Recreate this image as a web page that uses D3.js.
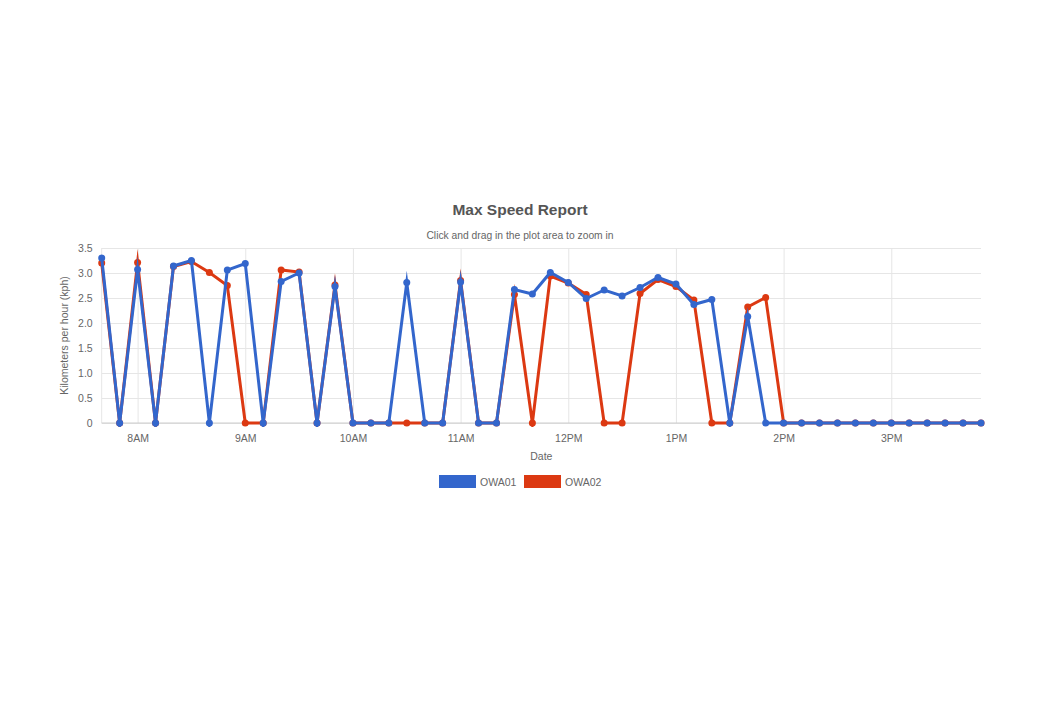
<!DOCTYPE html>
<html>
<head>
<meta charset="utf-8">
<script src="https://cdn.jsdelivr.net/npm/d3@7"></script>
<style>
  body { margin: 0; background: #fff; }
  text { font-family: Arial, "Liberation Sans", sans-serif; }
</style>
</head>
<body>
<div id="chart"></div>
<script>
// donnees (pas de 10 minutes)
var times = ["07:40","07:50","08:00","08:10","08:20","08:30","08:40","08:50",
  "09:00","09:10","09:20","09:30","09:40","09:50","10:00","10:10","10:20","10:30",
  "10:40","10:50","11:00","11:10","11:20","11:30","11:40","11:50","12:00","12:10",
  "12:20","12:30","12:40","12:50","13:00","13:10","13:20","13:30","13:40","13:50",
  "14:00","14:10","14:20","14:30","14:40","14:50","15:00","15:10","15:20","15:30",
  "15:40","15:50"];
var owa01 = [3.3,0,3.07,0,3.14,3.25,0,3.06,3.19,0,2.83,3.0,0,2.73,0,0,0,2.81,0,0,
  2.82,0,0,2.67,2.58,3.01,2.81,2.49,2.66,2.54,2.71,2.91,2.78,2.37,2.47,0,2.13,0,0,
  0,0,0,0,0,0,0,0,0,0,0];
var owa02 = [3.2,0,3.21,0,3.13,3.23,3.01,2.75,0,0,3.06,3.02,0,2.76,0,0,0,0,0,0,
  2.85,0,0,2.57,0,2.94,2.8,2.57,0,0,2.59,2.87,2.73,2.46,0,0,2.32,2.51,0,
  0,0,0,0,0,0,0,0,0,0,0];
var yTicks = [0,0.5,1.0,1.5,2.0,2.5,3.0,3.5];
var seriesNames = ["OWA01","OWA02"];
var seriesColors = ["#3366cc","#dc3912"];

var W = 1040, H = 720;
var pLeft = 101.7, pRight = 981, pTop = 248, pBottom = 423;
var fs = "10.5px";

var parse = d3.timeParse("%H:%M");
var dates = times.map(parse);

var x = d3.scaleTime().domain(d3.extent(dates)).range([pLeft, pRight]);
var y = d3.scaleLinear().domain([0, 3.5]).range([pBottom, pTop]);

var svg = d3.select("#chart").append("svg")
  .attr("width", W).attr("height", H);

// zone de coupe des lignes (les pointes du bas sont coupees)
svg.append("defs").append("clipPath").attr("id", "clipLines")
  .append("rect")
  .attr("x", pLeft - 10).attr("y", pTop - 30)
  .attr("width", pRight - pLeft + 20).attr("height", pBottom - pTop + 34);

// titre
svg.append("text")
  .attr("x", 520).attr("y", 214.5)
  .attr("text-anchor", "middle")
  .attr("font-size", "15.5px").attr("font-weight", "bold")
  .attr("fill", "#555")
  .text("Max Speed Report");
svg.append("text")
  .attr("x", 520).attr("y", 239)
  .attr("text-anchor", "middle")
  .attr("font-size", "10.3px")
  .attr("fill", "#666")
  .text("Click and drag in the plot area to zoom in");

// grille horizontale + labels y
var yAxis = d3.axisLeft(y).tickValues(yTicks)
  .tickSize(-(pRight - pLeft)).tickPadding(9)
  .tickFormat(function(d){ return d === 0 ? "0" : d3.format(".1f")(d); });
var gy = svg.append("g").attr("transform", "translate(" + pLeft + ",0)").call(yAxis);
gy.select(".domain").remove();
gy.selectAll("line").attr("stroke", "#e6e6e6");
gy.selectAll("text").attr("font-size", fs).attr("fill", "#666")
  .attr("font-family", "Arial, 'Liberation Sans', sans-serif");

// grille verticale + labels x
var xAxis = d3.axisBottom(x).ticks(d3.timeHour.every(1))
  .tickSize(-(pBottom - pTop)).tickPadding(12)
  .tickFormat(d3.timeFormat("%-I%p"));
var gx = svg.append("g").attr("transform", "translate(0," + pBottom + ")").call(xAxis);
gx.select(".domain").remove();
gx.selectAll("line").attr("stroke", "#e6e6e6");
gx.selectAll("text").attr("font-size", fs).attr("fill", "#666")
  .attr("font-family", "Arial, 'Liberation Sans', sans-serif");

// bord gauche et ligne de base
svg.append("line").attr("x1", pLeft).attr("x2", pLeft).attr("y1", pTop).attr("y2", pBottom)
  .attr("stroke", "#e6e6e6");
svg.append("line").attr("x1", pLeft).attr("x2", pRight).attr("y1", y(0)).attr("y2", y(0))
  .attr("stroke", "#ccc");

// titres d'axes
svg.append("text")
  .attr("x", (pLeft + pRight) / 2).attr("y", 460)
  .attr("text-anchor", "middle").attr("font-size", fs).attr("fill", "#666")
  .text("Date");
svg.append("text")
  .attr("transform", "translate(68," + ((pTop + pBottom) / 2) + ") rotate(-90)")
  .attr("text-anchor", "middle").attr("font-size", fs).attr("fill", "#666")
  .text("Kilometers per hour (kph)");

// series (OWA02 dessous, OWA01 dessus)
var line = d3.line().x(function(d){ return x(d.t); }).y(function(d){ return y(d.v); });
var series = [owa01, owa02];
[1, 0].forEach(function(s) {
  var pts = dates.map(function(t, i){ return {t: t, v: series[s][i]}; });
  var g = svg.append("g");
  g.append("path").datum(pts)
    .attr("clip-path", "url(#clipLines)")
    .attr("d", line)
    .attr("fill", "none")
    .attr("stroke", seriesColors[s])
    .attr("stroke-width", 3)
    .attr("stroke-linejoin", "miter")
    .attr("stroke-miterlimit", 10);
  g.selectAll("circle").data(pts).enter().append("circle")
    .attr("cx", function(d){ return x(d.t); })
    .attr("cy", function(d){ return y(d.v); })
    .attr("r", 3.5)
    .attr("fill", seriesColors[s]);
});

// legende
var leg = svg.append("g");
var legX = [439, 524];
seriesNames.forEach(function(n, i) {
  leg.append("rect").attr("x", legX[i]).attr("y", 475)
    .attr("width", 37).attr("height", 13).attr("fill", seriesColors[i]);
  leg.append("text").attr("x", legX[i] + 41).attr("y", 485.5)
    .attr("font-size", fs).attr("fill", "#666").text(n);
});
</script>
</body>
</html>
